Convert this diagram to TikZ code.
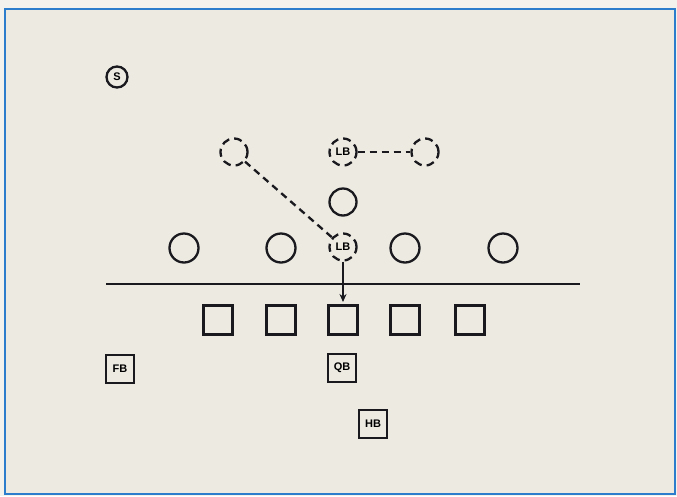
\documentclass[tikz,border=0pt]{standalone}
\usepackage{fontspec}
\setmainfont{Liberation Sans}
\usetikzlibrary{arrows.meta}
\definecolor{paper}{RGB}{237,234,226}
\definecolor{outer}{RGB}{244,242,236}
\definecolor{frame}{RGB}{45,125,205}
\definecolor{ink}{RGB}{25,25,30}
\tikzset{
  player/.style={circle, draw=ink, line width=2.3pt, minimum size=27pt, inner sep=0pt},
  dplayer/.style={player, dash pattern=on 8pt off 5pt},
  lineman/.style={rectangle, draw=ink, line width=2.3pt, minimum size=29pt, inner sep=0pt},
  back/.style={rectangle, draw=ink, line width=2.3pt, minimum size=28pt, inner sep=0pt, font=\bfseries\fontsize{11}{11}\selectfont},
  route/.style={draw=ink, line width=2.3pt, dash pattern=on 7pt off 5pt},
  lbl/.style={font=\bfseries\fontsize{11}{11}\selectfont}
}
\begin{document}
\begin{tikzpicture}[x=1pt,y=-1pt]
\useasboundingbox (0,0) rectangle (677,496);
\fill[outer] (0,0) rectangle (677,496);
\fill[paper] (5,9) rectangle (675,494);
\draw[frame, line width=2pt] (5,9) rectangle (675,494);
% safety
\node[player, minimum size=21pt, lbl] (s) at (117,77) {S};
% linebackers / dashed
\node[dplayer] (d1) at (234,152) {};
\node[dplayer, lbl] (lb1) at (343,152) {LB};
\node[dplayer] (d2) at (425,152) {};
\node[player] (m) at (343,202) {};
\node[player, minimum size=29pt] (l1) at (184,248) {};
\node[player, minimum size=29pt] (l2) at (281,248) {};
\node[dplayer, lbl] (lb2) at (343,247) {LB};
\node[player, minimum size=29pt] (l4) at (405,248) {};
\node[player, minimum size=29pt] (l5) at (503,248) {};
% line of scrimmage
\coordinate (los1) at (106,284);
\coordinate (los2) at (580,284);
\draw[ink, line width=2.2pt] (los1) -- (los2);
% offensive line
\node[lineman] (o1) at (218,320) {};
\node[lineman] (o2) at (281,320) {};
\node[lineman] (o3) at (343,320) {};
\node[lineman] (o4) at (405,320) {};
\node[lineman] (o5) at (470,320) {};
% backs
\node[back] (fb) at (120,369) {FB};
\node[back] (qb) at (342,368) {QB};
\node[back] (hb) at (373,424) {HB};
% routes
\draw[route] (lb1) -- (d2);
\draw[route] (d1) -- (lb2);
\coordinate (tip) at (343,302);
\draw[ink, line width=2pt, -{Stealth[length=8pt,width=7pt]}] (lb2.south) -- (tip);
\end{tikzpicture}
\end{document}
